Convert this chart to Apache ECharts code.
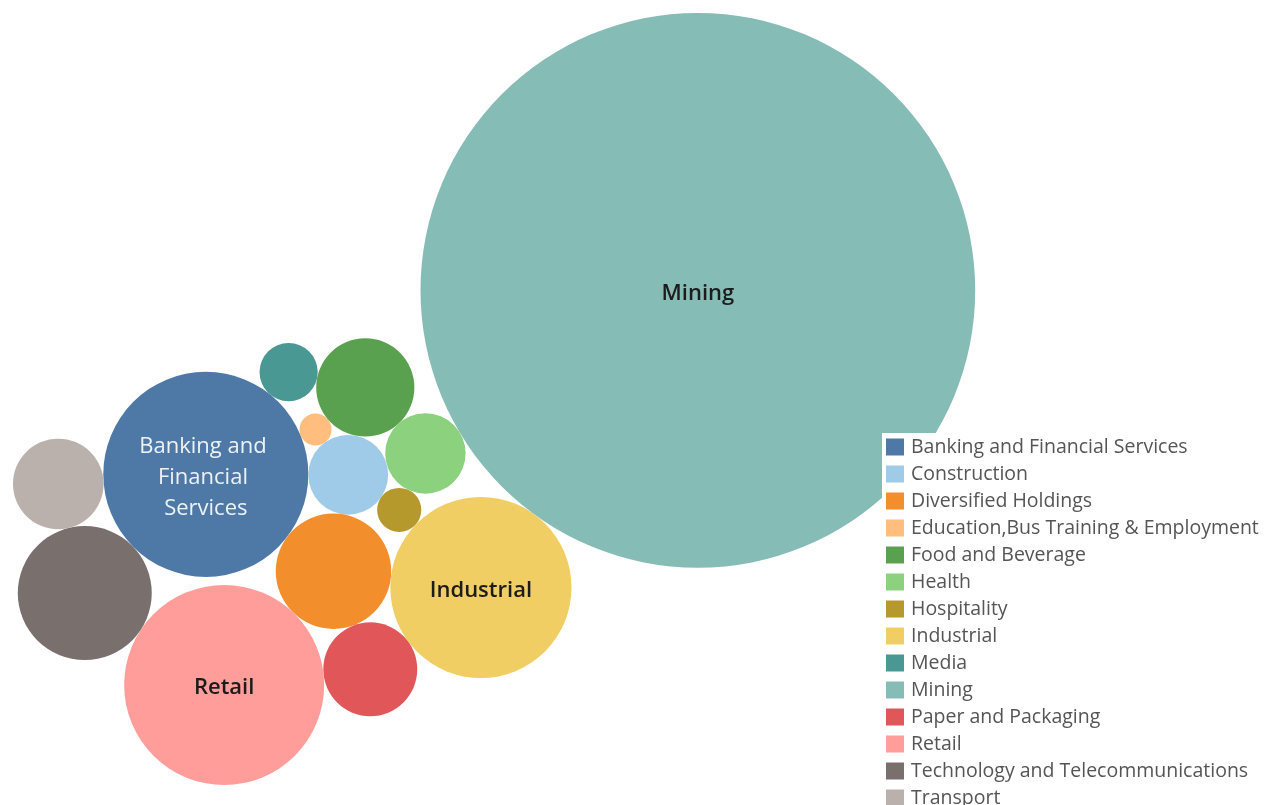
<!DOCTYPE html>
<html>
<head>
<meta charset="utf-8">
<script src="https://cdn.jsdelivr.net/npm/echarts@6/dist/echarts.min.js"></script>
<style>
html,body{margin:0;padding:0;background:#fff;}
#chart{width:1268px;height:805px;}
</style>
</head>
<body>
<div id="chart"></div>
<script>
// ---- data ----
const industries = [
  'Banking and Financial Services',
  'Construction',
  'Diversified Holdings',
  'Education,Bus Training & Employment',
  'Food and Beverage',
  'Health',
  'Hospitality',
  'Industrial',
  'Media',
  'Mining',
  'Paper and Packaging',
  'Retail',
  'Technology and Telecommunications',
  'Transport'
];
const values = [41, 6.2, 13, 1, 9.4, 6.3, 1.9, 32, 3.3, 300, 8.6, 39, 17.5, 8];
const colors = ['#4e79a7','#a0cbe8','#f28e2b','#ffbe7d','#59a14f','#8cd17d','#b6992d',
                '#f1ce63','#499894','#86bcb6','#e15759','#ff9d9a','#79706e','#bab0ac'];

// ---- packing structure: each bubble tangent to two earlier bubbles (side +1/-1) ----
const packStart = ['Banking and Financial Services', 'Diversified Holdings', 37.2];
const packSteps = [
  ['Construction', 'Banking and Financial Services', 'Diversified Holdings', -1],
  ['Education,Bus Training & Employment', 'Construction', 'Banking and Financial Services', 1],
  ['Food and Beverage', 'Education,Bus Training & Employment', 'Construction', -1],
  ['Health', 'Food and Beverage', 'Construction', -1],
  ['Hospitality', 'Construction', 'Health', 1],
  ['Industrial', 'Hospitality', 'Diversified Holdings', -1],
  ['Mining', 'Industrial', 'Health', 1],
  ['Paper and Packaging', 'Industrial', 'Diversified Holdings', -1],
  ['Retail', 'Diversified Holdings', 'Paper and Packaging', 1],
  ['Technology and Telecommunications', 'Retail', 'Banking and Financial Services', -1],
  ['Transport', 'Technology and Telecommunications', 'Banking and Financial Services', -1],
  ['Media', 'Food and Beverage', 'Banking and Financial Services', 1]
];

// ---- layout computation (units: radius = sqrt(value)) ----
const rad = {};
industries.forEach((n, i) => { rad[n] = Math.sqrt(values[i]); });
const pos = {};
(function () {
  const [a, b, ang] = packStart;
  pos[a] = [0, 0];
  const d = rad[a] + rad[b];
  const t = ang * Math.PI / 180;
  pos[b] = [d * Math.cos(t), d * Math.sin(t)];
  packSteps.forEach(([c, na, nb, side]) => {
    const A = pos[na], B = pos[nb];
    const dx = B[0] - A[0], dy = B[1] - A[1];
    const dd = Math.hypot(dx, dy);
    const ra = rad[na] + rad[c], rb = rad[nb] + rad[c];
    const along = (dd * dd + ra * ra - rb * rb) / (2 * dd);
    const h = Math.sqrt(Math.max(0, ra * ra - along * along));
    const ux = dx / dd, uy = dy / dd;
    pos[c] = [A[0] + along * ux - side * h * uy, A[1] + along * uy + side * h * ux];
  });
})();
let minX = Infinity, maxX = -Infinity, minY = Infinity, maxY = -Infinity;
industries.forEach(n => {
  minX = Math.min(minX, pos[n][0] - rad[n]); maxX = Math.max(maxX, pos[n][0] + rad[n]);
  minY = Math.min(minY, pos[n][1] - rad[n]); maxY = Math.max(maxY, pos[n][1] + rad[n]);
});
const areaTop = 13, areaLeft = 13, areaHeight = 772;
const scale = areaHeight / (maxY - minY);

function isDark(hex) {
  const r = parseInt(hex.substr(1, 2), 16), g = parseInt(hex.substr(3, 2), 16), b = parseInt(hex.substr(5, 2), 16);
  return (0.299 * r + 0.587 * g + 0.114 * b) < 128;
}

const series = industries.map((name, i) => ({
  type: 'custom',
  name: name,
  coordinateSystem: 'cartesian2d',
  itemStyle: { color: colors[i] },
  data: [[pos[name][0], pos[name][1], rad[name], values[i]]],
  renderItem: function (params, api) {
    const c = api.coord([api.value(0), api.value(1)]);
    const r = api.size([api.value(2), api.value(2)])[0];
    const children = [{
      type: 'circle',
      shape: { cx: c[0], cy: c[1], r: r },
      style: { fill: colors[i] }
    }];
    if (r >= 85) {
      const dark = isDark(colors[i]);
      children.push({
        type: 'text',
        x: c[0], y: c[1] + 3,
        style: {
          text: name,
          width: r * 1.5,
          overflow: 'break',
          align: 'center',
          verticalAlign: 'middle',
          fontSize: 22,
          lineHeight: 31,
          fontFamily: 'Open Sans',
          fontWeight: dark ? 'normal' : 600,
          fill: dark ? '#eef2f7' : '#1c1c1c'
        }
      });
    }
    return { type: 'group', children: children };
  }
}));

const chart = echarts.init(document.getElementById('chart'), null, { renderer: 'canvas' });
chart.setOption({
  animation: false,
  backgroundColor: '#ffffff',
  grid: {
    left: areaLeft, top: areaTop,
    width: (maxX - minX) * scale, height: (maxY - minY) * scale,
    containLabel: false
  },
  xAxis: { type: 'value', min: minX, max: maxX, show: false },
  yAxis: { type: 'value', min: minY, max: maxY, inverse: true, show: false },
  legend: {
    orient: 'vertical',
    left: 882, top: 433,
    height: 600,
    padding: [4, 10, 5, 4],
    backgroundColor: '#ffffff',
    icon: 'rect',
    itemWidth: 18, itemHeight: 17, itemGap: 7,
    textStyle: { fontSize: 19.5, color: '#555555', fontFamily: 'Open Sans', padding: [0, 0, 0, 2] },
    data: industries
  },
  series: series
});
</script>
</body>
</html>
